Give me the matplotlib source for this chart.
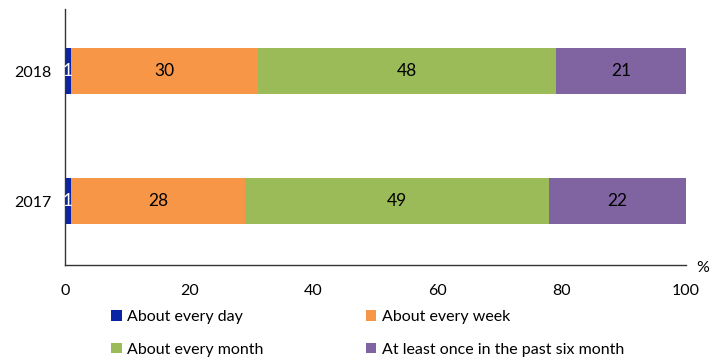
import matplotlib
matplotlib.use("Agg")
import matplotlib.pyplot as plt
from matplotlib.patches import Patch

plt.rcParams['font.family'] = ['Lato', 'DejaVu Sans']

years = ["2017", "2018"]
categories = ["About every day", "About every week",
              "About every month", "At least once in the past six month"]
values = {
    "About every day": [1, 1],
    "About every week": [28, 30],
    "About every month": [49, 48],
    "At least once in the past six month": [22, 21],
}
colors = ["#0a24a6", "#f79646", "#9bbb59", "#8064a2"]
label_colors = ["white", "black", "black", "black"]
xticks = [0, 20, 40, 60, 80, 100]

fig = plt.figure(figsize=(7.22, 3.58), dpi=100)
ax = fig.add_axes([65 / 722, 1 - 265 / 358, 621 / 722, 256 / 358])

ypos = list(range(len(years)))
left = [0.0] * len(years)
for cat, col, lc in zip(categories, colors, label_colors):
    vals = values[cat]
    bars = ax.barh(ypos, vals, left=left, height=0.354, color=col, label=cat)
    ax.bar_label(bars, labels=[str(v) for v in vals], label_type='center',
                 color=lc, fontsize=12.5)
    left = [l + v for l, v in zip(left, vals)]

ax.set_xlim(0, 100)
ax.set_ylim(-0.49, 1.48)
ax.set_yticks(ypos)
ax.set_yticklabels(years, fontsize=11.5)
ax.set_xticks(xticks)
ax.set_xticklabels([str(t) for t in xticks], fontsize=11.5)
ax.tick_params(axis='both', length=0)
ax.tick_params(axis='x', pad=14)
ax.tick_params(axis='y', pad=10)
for s in ("top", "right"):
    ax.spines[s].set_visible(False)
for s in ("left", "bottom"):
    ax.spines[s].set_color("#333333")
    ax.spines[s].set_linewidth(1.0)

fig.text(703 / 722, 1 - 268 / 358, "%", fontsize=11.5, ha='center', va='center')

# legend laid out row by row: (day, week) then (month, six month)
order = [0, 2, 1, 3]
handles = [Patch(facecolor=colors[i], edgecolor='none') for i in order]
labels = [categories[i] for i in order]
fig.legend(handles, labels, ncol=2, loc='upper left',
           bbox_to_anchor=(97 / 722, 1 - 296 / 358), frameon=False,
           fontsize=11.5, handlelength=0.65, handleheight=0.65,
           handletextpad=0.35, columnspacing=6.4, labelspacing=1.15)

fig.savefig("out.png", dpi=100)
